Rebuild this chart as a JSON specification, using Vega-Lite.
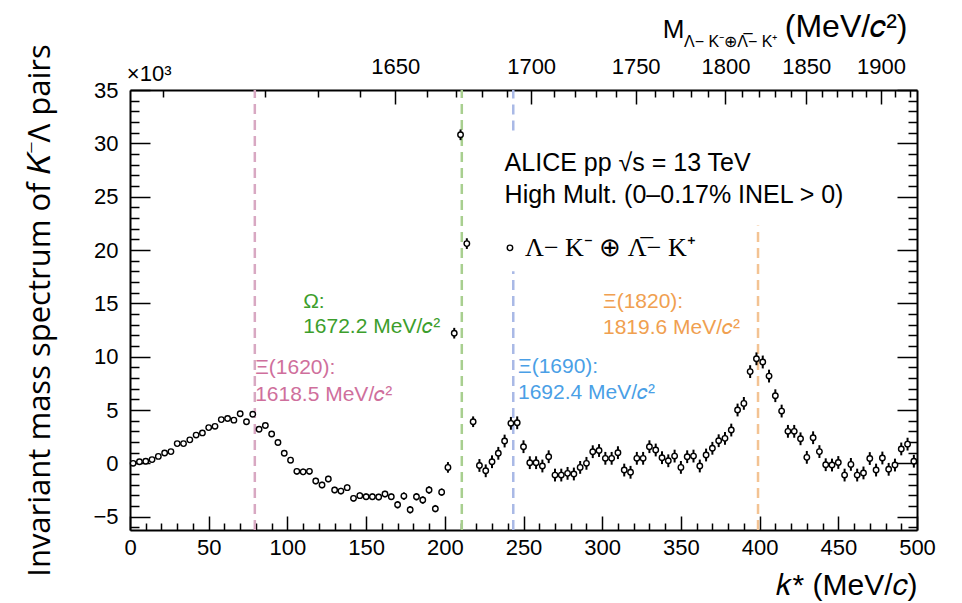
{
  "$schema": "https://vega.github.io/schema/vega-lite/v6.json",
  "width": 787,
  "height": 440,
  "autosize": "none",
  "padding": {"left": 130, "top": 90, "right": 45, "bottom": 73},
  "background": "white",
  "config": {"view": {"stroke": null}, "font": "Liberation Sans"},
  "datasets": {
    "pts": [
      {"k":2,"v":0.0,"e":0.2},{"k":6,"v":0.15,"e":0.2},{"k":10,"v":0.2,"e":0.2},{"k":14,"v":0.35,"e":0.2},{"k":18,"v":0.65,"e":0.2},
      {"k":22,"v":0.97,"e":0.2},{"k":26,"v":1.1,"e":0.2},{"k":30,"v":1.85,"e":0.2},{"k":34,"v":1.85,"e":0.2},{"k":38,"v":2.2,"e":0.2},
      {"k":42,"v":2.65,"e":0.2},{"k":46,"v":2.85,"e":0.2},{"k":50,"v":3.35,"e":0.2},{"k":54,"v":3.47,"e":0.2},{"k":58,"v":4.1,"e":0.2},
      {"k":62,"v":4.2,"e":0.2},{"k":66,"v":4.05,"e":0.2},{"k":70,"v":4.65,"e":0.2},{"k":74,"v":3.9,"e":0.2},{"k":78,"v":4.6,"e":0.2},
      {"k":82,"v":3.2,"e":0.2},{"k":86,"v":3.55,"e":0.2},{"k":90,"v":2.75,"e":0.2},{"k":94,"v":1.95,"e":0.2},{"k":98,"v":0.95,"e":0.2},
      {"k":102,"v":0.3,"e":0.3},{"k":106,"v":-0.75,"e":0.3},{"k":110,"v":-0.8,"e":0.3},{"k":114,"v":-0.75,"e":0.3},{"k":118,"v":-1.66,"e":0.3},
      {"k":122,"v":-2.03,"e":0.3},{"k":126,"v":-1.47,"e":0.3},{"k":130,"v":-2.5,"e":0.3},{"k":134,"v":-2.6,"e":0.3},{"k":138,"v":-2.28,"e":0.3},
      {"k":142,"v":-3.28,"e":0.3},{"k":146,"v":-3.03,"e":0.3},{"k":150,"v":-3.13,"e":0.3},{"k":154,"v":-3.13,"e":0.3},{"k":158,"v":-3.16,"e":0.3},
      {"k":162,"v":-2.88,"e":0.3},{"k":166,"v":-3.13,"e":0.3},{"k":170,"v":-3.88,"e":0.35},{"k":174,"v":-3.07,"e":0.35},{"k":178,"v":-4.35,"e":0.35},
      {"k":182,"v":-3.13,"e":0.35},{"k":186,"v":-3.44,"e":0.35},{"k":190,"v":-2.5,"e":0.35},{"k":194,"v":-4.25,"e":0.35},{"k":198,"v":-2.7,"e":0.35},
      {"k":202,"v":-0.38,"e":0.5},{"k":206,"v":12.2,"e":0.5},{"k":210,"v":30.8,"e":0.5},{"k":214,"v":20.6,"e":0.5},{"k":218,"v":3.9,"e":0.5},
      {"k":222,"v":-0.2,"e":0.6},{"k":226,"v":-0.7,"e":0.6},{"k":230,"v":0.15,"e":0.6},{"k":234,"v":0.94,"e":0.6},{"k":238,"v":2.09,"e":0.6},
      {"k":242,"v":3.75,"e":0.6},{"k":246,"v":3.8,"e":0.6},{"k":250,"v":1.56,"e":0.6},{"k":254,"v":0.06,"e":0.6},{"k":258,"v":0.06,"e":0.6},
      {"k":262,"v":-0.25,"e":0.6},{"k":266,"v":0.62,"e":0.6},{"k":270,"v":-1.1,"e":0.6},{"k":274,"v":-1.1,"e":0.6},{"k":278,"v":-0.94,"e":0.6},
      {"k":282,"v":-1.0,"e":0.6},{"k":286,"v":-0.38,"e":0.6},{"k":290,"v":0.0,"e":0.6},{"k":294,"v":1.09,"e":0.6},{"k":298,"v":1.2,"e":0.6},
      {"k":302,"v":0.47,"e":0.6},{"k":306,"v":0.47,"e":0.6},{"k":310,"v":1.0,"e":0.6},{"k":314,"v":-0.63,"e":0.6},{"k":318,"v":-0.84,"e":0.6},
      {"k":322,"v":0.47,"e":0.6},{"k":326,"v":0.47,"e":0.6},{"k":330,"v":1.56,"e":0.6},{"k":334,"v":1.25,"e":0.6},{"k":338,"v":0.53,"e":0.6},
      {"k":342,"v":0.24,"e":0.6},{"k":346,"v":0.68,"e":0.6},{"k":350,"v":-0.38,"e":0.6},{"k":354,"v":0.62,"e":0.6},{"k":358,"v":0.68,"e":0.6},
      {"k":362,"v":-0.25,"e":0.6},{"k":366,"v":0.78,"e":0.6},{"k":370,"v":1.41,"e":0.6},{"k":374,"v":2.12,"e":0.6},{"k":378,"v":2.34,"e":0.6},
      {"k":382,"v":3.12,"e":0.6},{"k":386,"v":5.0,"e":0.6},{"k":390,"v":5.62,"e":0.6},{"k":394,"v":8.6,"e":0.6},{"k":398,"v":9.8,"e":0.6},
      {"k":402,"v":9.5,"e":0.6},{"k":406,"v":8.18,"e":0.6},{"k":410,"v":6.34,"e":0.6},{"k":414,"v":4.9,"e":0.6},{"k":418,"v":3.0,"e":0.6},
      {"k":422,"v":3.0,"e":0.6},{"k":426,"v":2.3,"e":0.6},{"k":430,"v":0.56,"e":0.6},{"k":434,"v":2.4,"e":0.6},{"k":438,"v":1.1,"e":0.6},
      {"k":442,"v":-0.13,"e":0.6},{"k":446,"v":-0.16,"e":0.6},{"k":450,"v":0.08,"e":0.6},{"k":454,"v":-1.1,"e":0.6},{"k":458,"v":-0.1,"e":0.6},
      {"k":462,"v":-1.1,"e":0.6},{"k":466,"v":-0.9,"e":0.6},{"k":470,"v":0.45,"e":0.6},{"k":474,"v":-0.63,"e":0.6},{"k":478,"v":0.5,"e":0.6},
      {"k":482,"v":-0.56,"e":0.6},{"k":486,"v":-0.16,"e":0.6},{"k":490,"v":1.35,"e":0.6},{"k":494,"v":1.8,"e":0.6},{"k":498,"v":0.2,"e":0.6}
    ],
    "vlines": [
      {"k":79.3,"lo":-6.25,"hi":35,"g":"Xi1620"},
      {"k":210.8,"lo":-6.25,"hi":35,"g":"Omega"},
      {"k":243.5,"lo":-6.25,"hi":18.0,"g":"Xi1690"},
      {"k":243.5,"lo":31.2,"hi":35,"g":"Xi1690"},
      {"k":399.0,"lo":-6.25,"hi":22.3,"g":"Xi1820"}
    ],
    "annot": [
      {"k":79.5,"v":8.9,"t":"Ξ(1620):","g":"Xi1620"},
      {"k":79.5,"v":6.4,"t":"1618.5 MeV/𝑐²","g":"Xi1620"},
      {"k":110,"v":15.1,"t":"Ω:","g":"Omega"},
      {"k":110,"v":12.75,"t":"1672.2 MeV/𝑐²","g":"Omega"},
      {"k":246.5,"v":9.0,"t":"Ξ(1690):","g":"Xi1690"},
      {"k":246.5,"v":6.6,"t":"1692.4 MeV/𝑐²","g":"Xi1690"},
      {"k":300.5,"v":15.1,"t":"Ξ(1820):","g":"Xi1820"},
      {"k":300.5,"v":12.7,"t":"1819.6 MeV/𝑐²","g":"Xi1820"}
    ]
  },
  "resolve": {"scale": {"color": "independent"}, "axis": {"x": "independent", "y": "independent"}},
  "layer": [
    {
      "data": {"name": "vlines"},
      "mark": {"type": "rule", "strokeDash": [10, 6], "strokeWidth": 2.5},
      "encoding": {
        "x": {"field": "k", "type": "quantitative", "scale": {"domain": [0, 500], "nice": false, "zero": false},
          "axis": {"orient": "top",
            "values": [20.93,85.58,119.50,145.98,168.55,188.62,206.93,223.89,239.80,254.85,269.19,282.93,296.13,308.89,321.24,333.23,344.90,356.28,367.39,378.27,388.92,399.37,409.63,419.72,429.64,439.41,449.03,458.52,467.89,477.14,486.27,495.30],
            "labelExpr": "indexof([168.55,254.85,321.24,378.27,429.64,477.14], datum.value) >= 0 ? format(round((sqrt(1244748.6+datum.value*datum.value)+sqrt(243717+datum.value*datum.value))/10)*10,'d') : ''",
            "tickSize": {"condition": {"test": "indexof([168.55,254.85,321.24,378.27,429.64,477.14], datum.value) >= 0", "value": -14}, "value": -7},
            "labelPadding": 26, "title": null, "grid": false,
            "domainColor": "black", "domainWidth": 2, "tickColor": "black", "tickWidth": 1.5,
            "labelFont": "Liberation Sans", "labelFontSize": 22, "labelColor": "black",
            "labelOverlap": false, "labelFlush": false, "labelBound": false}},
        "y": {"field": "lo", "type": "quantitative", "scale": {"domain": [-6.25, 35], "nice": false, "zero": false},
          "axis": {"orient": "right",
            "values": [-6,-5,-4,-3,-2,-1,0,1,2,3,4,5,6,7,8,9,10,11,12,13,14,15,16,17,18,19,20,21,22,23,24,25,26,27,28,29,30,31,32,33,34,35],
            "labels": false,
            "tickSize": {"condition": {"test": "datum.value % 5 === 0", "value": -20}, "value": -9},
            "title": null, "grid": false,
            "domainColor": "black", "domainWidth": 2, "tickColor": "black", "tickWidth": 1.5}},
        "y2": {"field": "hi"},
        "color": {"field": "g", "type": "nominal", "legend": null,
          "scale": {"domain": ["Xi1620", "Omega", "Xi1690", "Xi1820"], "range": ["#d8a8c2", "#a8cf8f", "#a9b9e6", "#f3c393"]}}
      }
    },
    {
      "mark": {"type": "rule", "strokeDash": [6, 4], "strokeWidth": 2, "color": "black"},
      "encoding": {
        "y": {"datum": 0, "type": "quantitative", "scale": {"domain": [-6.25, 35], "nice": false, "zero": false}, "axis": null}
      }
    },
    {
      "data": {"name": "pts"},
      "mark": {"type": "errorbar", "thickness": 2, "color": "black"},
      "encoding": {
        "x": {"field": "k", "type": "quantitative", "scale": {"domain": [0, 500], "nice": false, "zero": false}, "axis": null},
        "y": {"field": "v", "type": "quantitative", "scale": {"domain": [-6.25, 35], "nice": false, "zero": false}, "axis": null},
        "yError": {"field": "e"}
      }
    },
    {
      "data": {"name": "pts"},
      "mark": {"type": "point", "shape": "circle", "filled": true, "fill": "white", "stroke": "black", "strokeWidth": 1.4, "size": 30, "opacity": 1},
      "encoding": {
        "x": {"field": "k", "type": "quantitative", "scale": {"domain": [0, 500], "nice": false, "zero": false},
          "axis": {"orient": "bottom",
            "values": [0,10,20,30,40,50,60,70,80,90,100,110,120,130,140,150,160,170,180,190,200,210,220,230,240,250,260,270,280,290,300,310,320,330,340,350,360,370,380,390,400,410,420,430,440,450,460,470,480,490,500],
            "labelExpr": "datum.value % 50 === 0 ? datum.label : ''",
            "tickSize": {"condition": {"test": "datum.value % 50 === 0", "value": -14}, "value": -7},
            "labelPadding": 21,
            "title": "𝑘* (MeV/𝑐)", "titleAnchor": "end", "titleFont": "Liberation Sans", "titleFontSize": 30,
            "titleFontWeight": "normal", "titleColor": "black", "titlePadding": 5,
            "grid": false, "domainColor": "black", "domainWidth": 2, "tickColor": "black", "tickWidth": 1.5,
            "labelFont": "Liberation Sans", "labelFontSize": 22, "labelColor": "black",
            "labelOverlap": false, "labelFlush": false, "labelBound": false}},
        "y": {"field": "v", "type": "quantitative", "scale": {"domain": [-6.25, 35], "nice": false, "zero": false},
          "axis": {"orient": "left",
            "values": [-6,-5,-4,-3,-2,-1,0,1,2,3,4,5,6,7,8,9,10,11,12,13,14,15,16,17,18,19,20,21,22,23,24,25,26,27,28,29,30,31,32,33,34,35],
            "labelExpr": "datum.value % 5 === 0 ? datum.label : ''",
            "tickSize": {"condition": {"test": "datum.value % 5 === 0", "value": -20}, "value": -9},
            "labelPadding": 32,
            "title": "Invariant mass spectrum of 𝐾⁻Λ pairs", "titleFont": "Open Sans", "titleFontSize": 31,
            "titleFontWeight": "normal", "titleColor": "black", "titlePadding": 36,
            "grid": false, "domainColor": "black", "domainWidth": 2, "tickColor": "black", "tickWidth": 1.5,
            "labelFont": "Liberation Sans", "labelFontSize": 22, "labelColor": "black",
            "labelOverlap": false, "labelFlush": false, "labelBound": false}}
      }
    },
    {
      "data": {"name": "annot"},
      "mark": {"type": "text", "align": "left", "baseline": "middle", "fontSize": 21, "font": "Liberation Sans"},
      "encoding": {
        "x": {"field": "k", "type": "quantitative", "scale": {"domain": [0, 500], "nice": false, "zero": false}, "axis": null},
        "y": {"field": "v", "type": "quantitative", "scale": {"domain": [-6.25, 35], "nice": false, "zero": false}, "axis": null},
        "text": {"field": "t"},
        "color": {"field": "g", "type": "nominal", "legend": null,
          "scale": {"domain": ["Xi1620", "Omega", "Xi1690", "Xi1820"], "range": ["#cf6f9c", "#3c9e2c", "#4a9fe6", "#f0a050"]}}
      }
    },
    {
      "data": {"values": [
        {"k": 238, "v": 28.2, "t": "ALICE pp √s = 13 TeV"},
        {"k": 238, "v": 25.2, "t": "High Mult. (0–0.17% INEL > 0)"}
      ]},
      "mark": {"type": "text", "align": "left", "baseline": "middle", "fontSize": 25, "font": "Liberation Sans", "color": "black"},
      "encoding": {
        "x": {"field": "k", "type": "quantitative", "scale": {"domain": [0, 500], "nice": false, "zero": false}, "axis": null},
        "y": {"field": "v", "type": "quantitative", "scale": {"domain": [-6.25, 35], "nice": false, "zero": false}, "axis": null},
        "text": {"field": "t"}
      }
    },
    {
      "data": {"values": [{"k": 241.4, "v": 20.2}]},
      "mark": {"type": "point", "shape": "circle", "filled": true, "fill": "white", "stroke": "black", "strokeWidth": 1.4, "size": 30, "opacity": 1},
      "encoding": {
        "x": {"field": "k", "type": "quantitative", "scale": {"domain": [0, 500], "nice": false, "zero": false}, "axis": null},
        "y": {"field": "v", "type": "quantitative", "scale": {"domain": [-6.25, 35], "nice": false, "zero": false}, "axis": null}
      }
    },
    {
      "data": {"values": [{"k": 251, "v": 20.2, "t": "Λ− K⁻ ⊕ Λ̅− K⁺"}]},
      "mark": {"type": "text", "align": "left", "baseline": "middle", "fontSize": 26, "font": "Liberation Serif", "color": "black"},
      "encoding": {
        "x": {"field": "k", "type": "quantitative", "scale": {"domain": [0, 500], "nice": false, "zero": false}, "axis": null},
        "y": {"field": "v", "type": "quantitative", "scale": {"domain": [-6.25, 35], "nice": false, "zero": false}, "axis": null},
        "text": {"field": "t"}
      }
    },
    {
      "data": {"values": [{"k": 338.5, "v": 40.6, "t": "M"}]},
      "mark": {"type": "text", "align": "left", "baseline": "middle", "fontSize": 26, "font": "Liberation Sans", "color": "black"},
      "encoding": {
        "x": {"field": "k", "type": "quantitative", "scale": {"domain": [0, 500], "nice": false, "zero": false}, "axis": null},
        "y": {"field": "v", "type": "quantitative", "scale": {"domain": [-6.25, 35], "nice": false, "zero": false}, "axis": null},
        "text": {"field": "t"}
      }
    },
    {
      "data": {"values": [{"k": 416, "v": 40.9, "t": "(MeV/𝑐²)"}]},
      "mark": {"type": "text", "align": "left", "baseline": "middle", "fontSize": 32, "font": "Liberation Sans", "color": "black"},
      "encoding": {
        "x": {"field": "k", "type": "quantitative", "scale": {"domain": [0, 500], "nice": false, "zero": false}, "axis": null},
        "y": {"field": "v", "type": "quantitative", "scale": {"domain": [-6.25, 35], "nice": false, "zero": false}, "axis": null},
        "text": {"field": "t"}
      }
    },
    {
      "data": {"values": [{"k": 352, "v": 39.5, "t": "Λ− K⁻⊕Λ̅− K⁺"}]},
      "mark": {"type": "text", "align": "left", "baseline": "middle", "fontSize": 16, "font": "Liberation Sans", "color": "black"},
      "encoding": {
        "x": {"field": "k", "type": "quantitative", "scale": {"domain": [0, 500], "nice": false, "zero": false}, "axis": null},
        "y": {"field": "v", "type": "quantitative", "scale": {"domain": [-6.25, 35], "nice": false, "zero": false}, "axis": null},
        "text": {"field": "t"}
      }
    },
    {
      "data": {"values": [{"k": -2, "v": 36.5, "t": "×10³"}]},
      "mark": {"type": "text", "align": "left", "baseline": "middle", "fontSize": 22, "font": "Liberation Sans", "color": "black"},
      "encoding": {
        "x": {"field": "k", "type": "quantitative", "scale": {"domain": [0, 500], "nice": false, "zero": false}, "axis": null},
        "y": {"field": "v", "type": "quantitative", "scale": {"domain": [-6.25, 35], "nice": false, "zero": false}, "axis": null},
        "text": {"field": "t"}
      }
    }
  ]
}
